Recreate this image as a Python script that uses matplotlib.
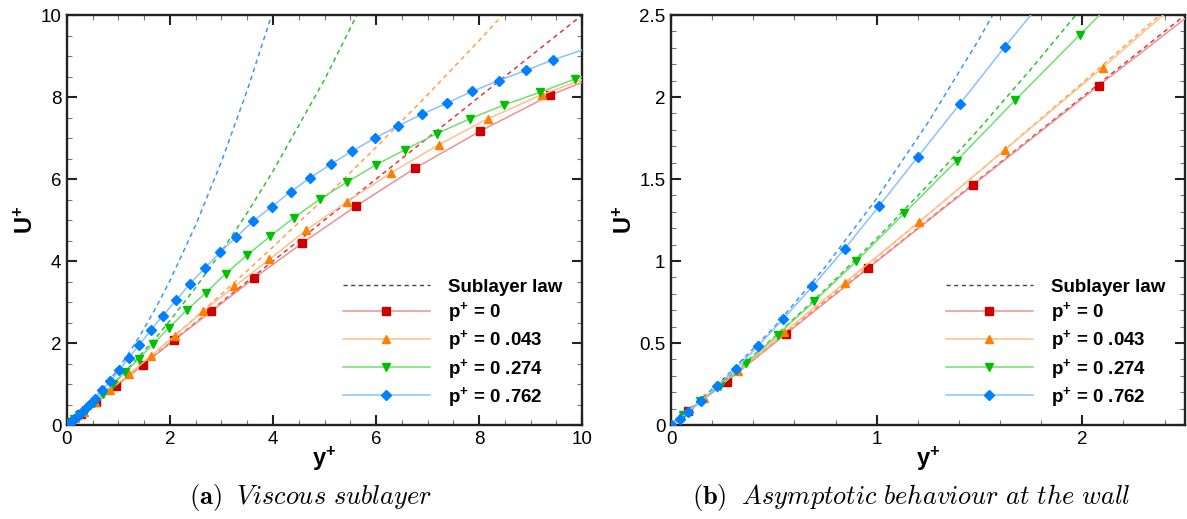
import matplotlib.pyplot as plt
from matplotlib.ticker import MultipleLocator, FormatStrFormatter

plt.rcParams['font.family'] = ['Liberation Sans', 'DejaVu Sans']
plt.rcParams['mathtext.fontset'] = 'custom'
plt.rcParams['mathtext.rm'] = 'Liberation Sans'
plt.rcParams['mathtext.bf'] = 'Liberation Sans:bold'

# DNS profiles
yp_p0 = [0, 0.085, 0.27, 0.56, 0.96, 1.47, 2.08, 2.80, 3.63, 4.57, 5.61, 6.75, 8.01, 9.37, 10.87]
up_p0 = [0, 0.085, 0.265, 0.557, 0.958, 1.465, 2.07, 2.77, 3.58, 4.44, 5.34, 6.26, 7.16, 8.04, 8.80]

yp_p043 = [0, 0.042, 0.158, 0.324, 0.551, 0.844, 1.204, 1.622, 2.10, 2.64, 3.25, 3.93, 4.65,
           5.44, 6.29, 7.22, 8.17, 9.22, 10.30]
up_p043 = [0, 0.049, 0.162, 0.328, 0.567, 0.867, 1.236, 1.677, 2.18, 2.77, 3.38, 4.04, 4.76,
           5.45, 6.15, 6.84, 7.47, 8.06, 8.56]

yp_p274 = [0, 0.056, 0.142, 0.24, 0.367, 0.518, 0.696, 0.902, 1.133, 1.39, 1.673, 1.987, 2.33,
           2.69, 3.08, 3.50, 3.95, 4.41, 4.91, 5.44, 5.99, 6.57, 7.18, 7.82, 8.49, 9.19, 9.86, 10.60]
up_p274 = [0, 0.059, 0.145, 0.237, 0.379, 0.549, 0.754, 1.0, 1.29, 1.613, 1.98, 2.378, 2.81,
           3.22, 3.69, 4.15, 4.61, 5.06, 5.51, 5.93, 6.34, 6.72, 7.11, 7.47, 7.81, 8.12, 8.44, 8.72]

yp_p762 = [0, 0.042, 0.085, 0.145, 0.225, 0.315, 0.422, 0.545, 0.687, 0.844, 1.013, 1.2, 1.405,
           1.624, 1.86, 2.12, 2.38, 2.68, 2.97, 3.29, 3.62, 3.98, 4.34, 4.72, 5.12, 5.53, 5.98,
           6.42, 6.89, 7.37, 7.87, 8.38, 8.91, 9.44, 10.15]
up_p762 = [0, 0.038, 0.081, 0.144, 0.237, 0.344, 0.48, 0.646, 0.845, 1.074, 1.337, 1.635, 1.959,
           2.307, 2.67, 3.04, 3.44, 3.83, 4.21, 4.59, 4.98, 5.33, 5.69, 6.03, 6.36, 6.68, 7.00,
           7.29, 7.58, 7.85, 8.14, 8.40, 8.65, 8.91, 9.21]

# sublayer law curves (dashed)
law_y = [0, 0.25, 0.5, 0.75, 1, 1.25, 1.5, 1.75, 2, 2.5, 3, 3.5, 4, 5, 6, 7, 8, 9, 10]
law_p0 = [0, 0.25, 0.5, 0.75, 1, 1.25, 1.5, 1.75, 2, 2.5, 3, 3.5, 4, 5, 6, 7, 8, 9, 10]
law_p043 = [0, 0.251, 0.505, 0.762, 1.022, 1.284, 1.548, 1.816, 2.086, 2.634, 3.194, 3.763,
            4.344, 5.538, 6.774, 8.054, 9.376, 10.742, 12.15]
law_p274 = [0, 0.259, 0.534, 0.827, 1.137, 1.464, 1.808, 2.170, 2.548, 3.356, 4.233, 5.178,
            6.192, 8.425, 10.932, 13.71, 16.77, 20.10, 23.70]
law_p762 = [0, 0.274, 0.595, 0.964, 1.381, 1.845, 2.357, 2.917, 3.524, 4.881, 6.429, 8.167,
            10.096, 14.53, 19.72, 25.67, 32.38, 39.86, 48.10]

series = [
    (yp_p0, up_p0, law_p0, 's', '#cc0000', '#f09090', '#e03838', r'$\mathbf{p^{+}}$ = 0'),
    (yp_p043, up_p043, law_p043, '^', '#ff7f00', '#ffc08a', '#ffa050', r'$\mathbf{p^{+}}$ = 0 .043'),
    (yp_p274, up_p274, law_p274, 'v', '#00c000', '#70e070', '#30c030', r'$\mathbf{p^{+}}$ = 0 .274'),
    (yp_p762, up_p762, law_p762, 'D', '#0080ff', '#8cc0ff', '#3a96ff', r'$\mathbf{p^{+}}$ = 0 .762'),
]

fig = plt.figure(figsize=(11.87, 5.19), dpi=100)
ax1 = fig.add_axes([0.0564, 0.181, 0.4340, 0.790])
ax2 = fig.add_axes([0.5653, 0.181, 0.4331, 0.790])


def draw(ax, lim, major, minor):
    ax.plot([], [], ls=(0, (3, 2.5)), color='#444444', lw=1.0, label='Sublayer law')
    for yp, up, law, mk, c, lc, dc, lab in series:
        ax.plot(law_y, law, ls=(0, (3, 2.5)), color=dc, lw=1.1, zorder=2)
        ax.plot(yp, up, '-', color=lc, lw=1.1, marker=mk, ms=6 if mk != 'D' else 5.5,
                mfc=c, mec=c, label=lab, zorder=3)
    ax.set_xlim(0, lim)
    ax.set_ylim(0, lim)
    ax.xaxis.set_major_locator(MultipleLocator(major))
    ax.yaxis.set_major_locator(MultipleLocator(major))
    ax.xaxis.set_minor_locator(MultipleLocator(minor))
    ax.yaxis.set_minor_locator(MultipleLocator(minor))
    ax.xaxis.set_major_formatter(FormatStrFormatter('%g'))
    ax.yaxis.set_major_formatter(FormatStrFormatter('%g'))
    ax.tick_params(which='both', direction='in', top=True, right=True, labelsize=13.5, pad=4)
    ax.tick_params(which='major', length=7, width=1.5, color='#222222')
    ax.tick_params(which='minor', length=3.5, width=0.8, color='#777777')
    for s in ax.spines.values():
        s.set_linewidth(1.7)
        s.set_color('#222222')
    ax.set_xlabel(r'$\mathbf{y^{+}}$', fontsize=17, labelpad=-2)
    ax.set_ylabel(r'$\mathbf{U^{+}}$', fontsize=17, labelpad=2)
    ax.legend(loc='lower right', bbox_to_anchor=(0.995, -0.002), frameon=False,
              prop={'weight': 'bold', 'size': 13.5}, handlelength=4.6,
              handletextpad=1.0, labelspacing=0.23)


draw(ax1, 10, 2, 0.5)
draw(ax2, 2.5, 0.5, 0.1)
ax2.xaxis.set_major_locator(MultipleLocator(1))
ax2.xaxis.set_minor_locator(MultipleLocator(0.2))

fig.text(0.262, 0.028, r'$\mathbf{(a)}$  $\mathit{Viscous\ sublayer}$', ha='center', va='baseline',
         fontsize=19, math_fontfamily='cm')
fig.text(0.768, 0.028, r'$\mathbf{(b)}$  $\mathit{Asymptotic\ behaviour\ at\ the\ wall}$',
         ha='center', va='baseline', fontsize=19, math_fontfamily='cm')

fig.savefig('out.png', dpi=100)
